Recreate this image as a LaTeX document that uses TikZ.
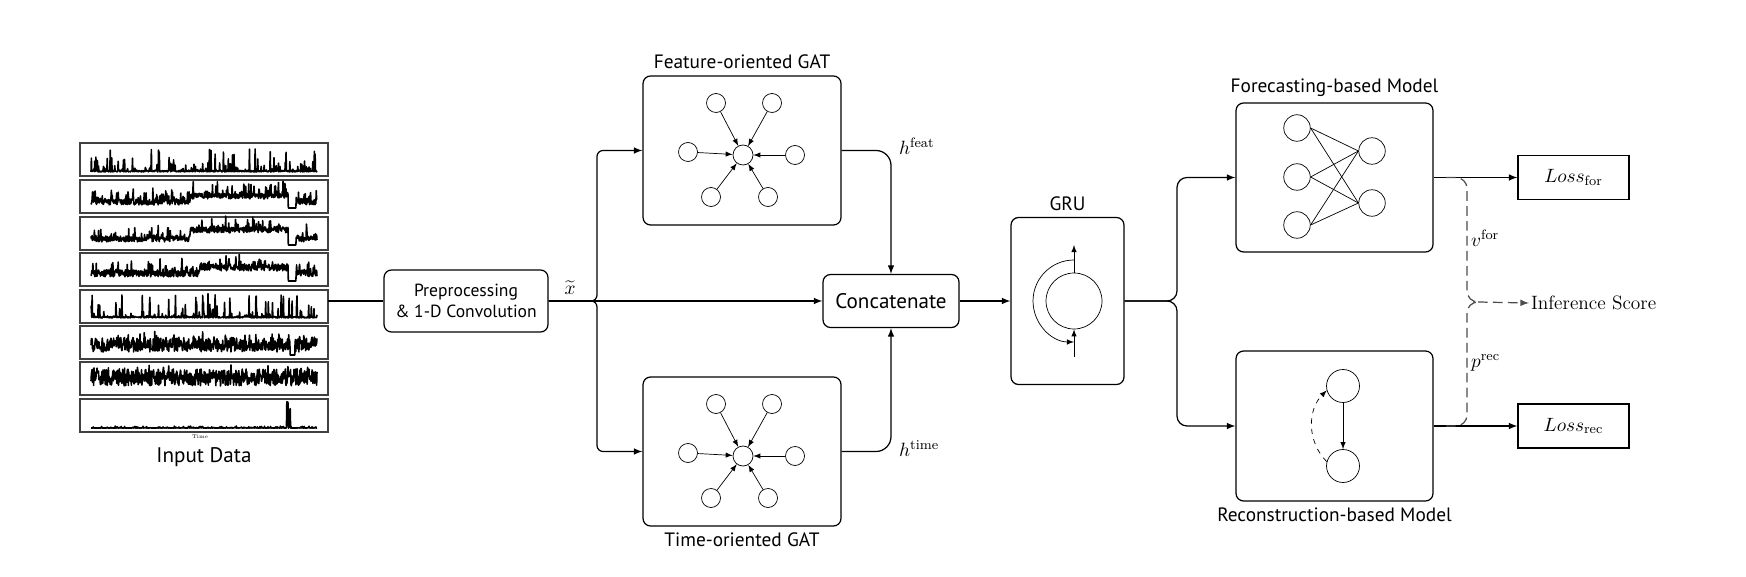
\documentclass[tikz,border=0pt]{standalone}
\usepackage{fontspec}
\newfontfamily\boxfont{PT Sans}
\usetikzlibrary{positioning}
\usetikzlibrary{arrows.meta}
\tikzset{
    block/.style = {rectangle, rounded corners=0.15cm, draw=black, line width=0.7pt, align=center, font=\boxfont\fontsize{10}{12}\selectfont},
    lossbox/.style = {rectangle, draw=black, line width=0.7pt, minimum width=2.22cm, minimum height=0.88cm, font=\fontsize{11}{13}\selectfont},
    panel/.style = {rectangle, draw=black!75, line width=0.8pt, minimum width=4.96cm, minimum height=0.66cm},
    series/.style = {line width=0.9pt, line join=round},
    gnode/.style = {circle, draw=black, thin, minimum size=0.38cm, inner sep=0pt},
    fnode/.style = {circle, draw=black, thin, minimum size=0.53cm, inner sep=0pt},
    boxtitle/.style = {font=\boxfont\fontsize{11}{13}\selectfont},
    mathlab/.style = {font=\fontsize{11}{13}\selectfont, inner sep=1pt},
    edgen/.style = {-latex, line width=0.7pt},
    edgei/.style = {-latex, thin}, % inside the boxes
    edged/.style = {line width=0.7pt, draw=black!70, dash pattern=on 5.5pt off 3pt} % scores
}

\begin{document}
\begin{tikzpicture}[
  x=0.02cm,
  y=-0.02cm]
  \useasboundingbox (0,0) rectangle (1746,577);

  % input data
  \node[panel] (p1) at (204,159.5) {};
  \node[panel] (p2) at (204,196.5) {};
  \node[panel] (p3) at (204,233.5) {};
  \node[panel] (p4) at (204,269.5) {};
  \node[panel] (p5) at (204,306.5) {};
  \node[panel] (p6) at (204,342.5) {};
  \node[panel] (p7) at (204,378.5) {};
  \node[panel] (p8) at (204,415.5) {};
  \pgfmathsetseed{7}
  \draw[series] plot[domain=91:317, samples=600] (\x,{172-1.5*rnd-22*rnd^14});
  \draw[series] plot[domain=91:317, samples=600] (\x,{208-(1-(\x>288)*(\x<296))*(3+6*(\x>190)*(\x<288)+6*rnd+14*rnd^10)});
  \draw[series] plot[domain=91:317, samples=600] (\x,{245-(1-(\x>288)*(\x<296))*(3+9*(\x>190)*(\x<288)+6*rnd+12*rnd^10)});
  \draw[series] plot[domain=91:317, samples=600] (\x,{281-(1-(\x>288)*(\x<296))*(4+6*(\x>200)*(\x<288)+7*rnd+12*rnd^10)});
  \draw[series] plot[domain=91:317, samples=600] (\x,{319-1-1.5*rnd-24*rnd^16});
  \draw[series] plot[domain=91:317, samples=600] (\x,{355-(1-(\x>290)*(\x<295))*(3+14*rnd+8*rnd^12)});
  \draw[series] plot[domain=91:317, samples=600] (\x,{390-(4+17*rnd+6*rnd^12)});
  \draw[series] plot[domain=91:317, samples=600] (\x,{428-2*rnd^8-26*(\x>286.5)*(\x<288)-18*(\x>289)*(\x<290.5)});
  \node[font=\fontsize{3}{3}\selectfont, inner sep=0pt] (tlab) at (200,437) {Time};
  \node[boxtitle, font=\boxfont\fontsize{12}{14}\selectfont] (inlab) at (204,457) {Input Data};
  \coordinate (inp) at (328,301);

  \node[block, minimum width=3.28cm, minimum height=1.24cm] (pre) at (466,301) {Preprocessing\\ \& 1-D Convolution};
  \node[block, minimum width=3.96cm, minimum height=2.98cm, label={[boxtitle]above:Feature-oriented GAT}] (feat) at (742,150.5) {};
  \node[block, minimum width=3.96cm, minimum height=2.98cm, label={[boxtitle]below:Time-oriented GAT}] (time) at (742,451.5) {};
  \node[block, minimum width=2.72cm, minimum height=1.06cm, font=\boxfont\fontsize{12}{14}\selectfont] (concat) at (891,301) {Concatenate};
  \node[block, minimum width=2.26cm, minimum height=3.34cm, label={[boxtitle]above:GRU}] (gru) at (1067.5,301) {};
  \node[block, minimum width=3.94cm, minimum height=2.98cm, label={[boxtitle]above:Forecasting-based Model}] (fore) at (1334.5,177.5) {};
  \node[block, minimum width=3.94cm, minimum height=3.00cm, label={[boxtitle]below:Reconstruction-based Model}] (recon) at (1334.5,426) {};
  \node[lossbox] (lossf) at (1573.5,177.5) {$Loss_{\mathrm{for}}$};
  \node[lossbox] (lossr) at (1573.5,426) {$Loss_{\mathrm{rec}}$};
  \node[mathlab, anchor=west] (infer) at (1529,303) {Inference Score};

  % feature graph
  \node[gnode, minimum size=0.4cm] (fc) at (743,155) {};
  \node[gnode] (f1) at (716,103) {};
  \node[gnode] (f2) at (772,103) {};
  \node[gnode] (f3) at (688,152) {};
  \node[gnode] (f4) at (795,155) {};
  \node[gnode] (f5) at (711,197) {};
  \node[gnode] (f6) at (768,197) {};
  \draw[edgei] (f1) -- (fc);
  \draw[edgei] (f2) -- (fc);
  \draw[edgei] (f3) -- (fc);
  \draw[edgei] (f4) -- (fc);
  \draw[edgei] (f5) -- (fc);
  \draw[edgei] (f6) -- (fc);

  % time graph
  \node[gnode, minimum size=0.4cm] (tc) at (743,456) {};
  \node[gnode] (t1) at (716,404) {};
  \node[gnode] (t2) at (772,404) {};
  \node[gnode] (t3) at (688,453) {};
  \node[gnode] (t4) at (795,456) {};
  \node[gnode] (t5) at (711,498) {};
  \node[gnode] (t6) at (768,498) {};
  \draw[edgei] (t1) -- (tc);
  \draw[edgei] (t2) -- (tc);
  \draw[edgei] (t3) -- (tc);
  \draw[edgei] (t4) -- (tc);
  \draw[edgei] (t5) -- (tc);
  \draw[edgei] (t6) -- (tc);

  % gru cell
  \node[circle, draw=black, thin, minimum size=1.12cm, inner sep=0pt] (gc) at (1074,301) {};
  \coordinate (gt) at (1074,245);
  \coordinate (gb) at (1074,357);
  \draw[edgei] (gc.north) -- (gt);
  \draw[edgei] (gb) -- (gc.south);
  \draw[edgei] (1074,260) arc[start angle=90, end angle=270, radius=0.82cm];

  % forecasting net
  \node[fnode] (a1) at (1297,128) {};
  \node[fnode] (a2) at (1297,177) {};
  \node[fnode] (a3) at (1297,225) {};
  \node[fnode] (b1) at (1372,151) {};
  \node[fnode] (b2) at (1372,203) {};
  \draw[thin] (a1.east) -- (b1.west);
  \draw[thin] (a1.east) -- (b2.west);
  \draw[thin] (a2.east) -- (b1.west);
  \draw[thin] (a2.east) -- (b2.west);
  \draw[thin] (a3.east) -- (b1.west);
  \draw[thin] (a3.east) -- (b2.west);

  % reconstruction
  \node[fnode, minimum size=0.66cm] (r1) at (1343,386) {};
  \node[fnode, minimum size=0.66cm] (r2) at (1343,466) {};
  \draw[edgei] (r1) -- (r2);
  \draw[edgei, dashed] (r2.165) to[bend left=45] (r1.195); % back

  % connectors
  \coordinate (xs) at (597,301);
  \coordinate (gs) at (1177,301);
  \draw[line width=0.7pt] (inp) -- (pre.west);
  \draw[edgen, rounded corners=0.12cm] (pre.east) -- (xs) |- (feat.west);
  \draw[edgen, rounded corners=0.12cm] (pre.east) -- (xs) |- (time.west);
  \draw[edgen] (pre.east) -- (concat.west);
  \node[mathlab] (xt) at (570,288) {$\widetilde{x}$};
  \draw[edgen, rounded corners=0.3cm] (feat.east) -| (concat.north);
  \draw[edgen, rounded corners=0.3cm] (time.east) -| (concat.south);
  \node[mathlab, anchor=west] (hf) at (897,146) {$h^{\mathrm{feat}}$};
  \node[mathlab, anchor=west] (ht) at (897,449) {$h^{\mathrm{time}}$};
  \draw[edgen] (concat.east) -- (gru.west);
  \draw[edgen, rounded corners=0.2cm] (gru.east) -- (gs) |- (fore.west);
  \draw[edgen, rounded corners=0.2cm] (gru.east) -- (gs) |- (recon.west);
  \draw[edgen] (fore.east) -- (lossf.west);
  \draw[edgen] (recon.east) -- (lossr.west);

  % scores
  \coordinate (fo) at (1446,177.5);
  \coordinate (ro) at (1446,426);
  \coordinate (bj) at (1467,302);
  \coordinate (bk) at (1478,302);
  \draw[edged, rounded corners=0.22cm] (fo) -| (bj) -- (bk);
  \draw[edged, rounded corners=0.22cm] (ro) -| (bj) -- (bk);
  \draw[edged, -latex] (bk) -- (infer.west);
  \node[mathlab, anchor=west] (vf) at (1469,238) {$v^{\mathrm{for}}$};
  \node[mathlab, anchor=west] (pr) at (1469,363) {$p^{\mathrm{rec}}$};
\end{tikzpicture}
\end{document}
